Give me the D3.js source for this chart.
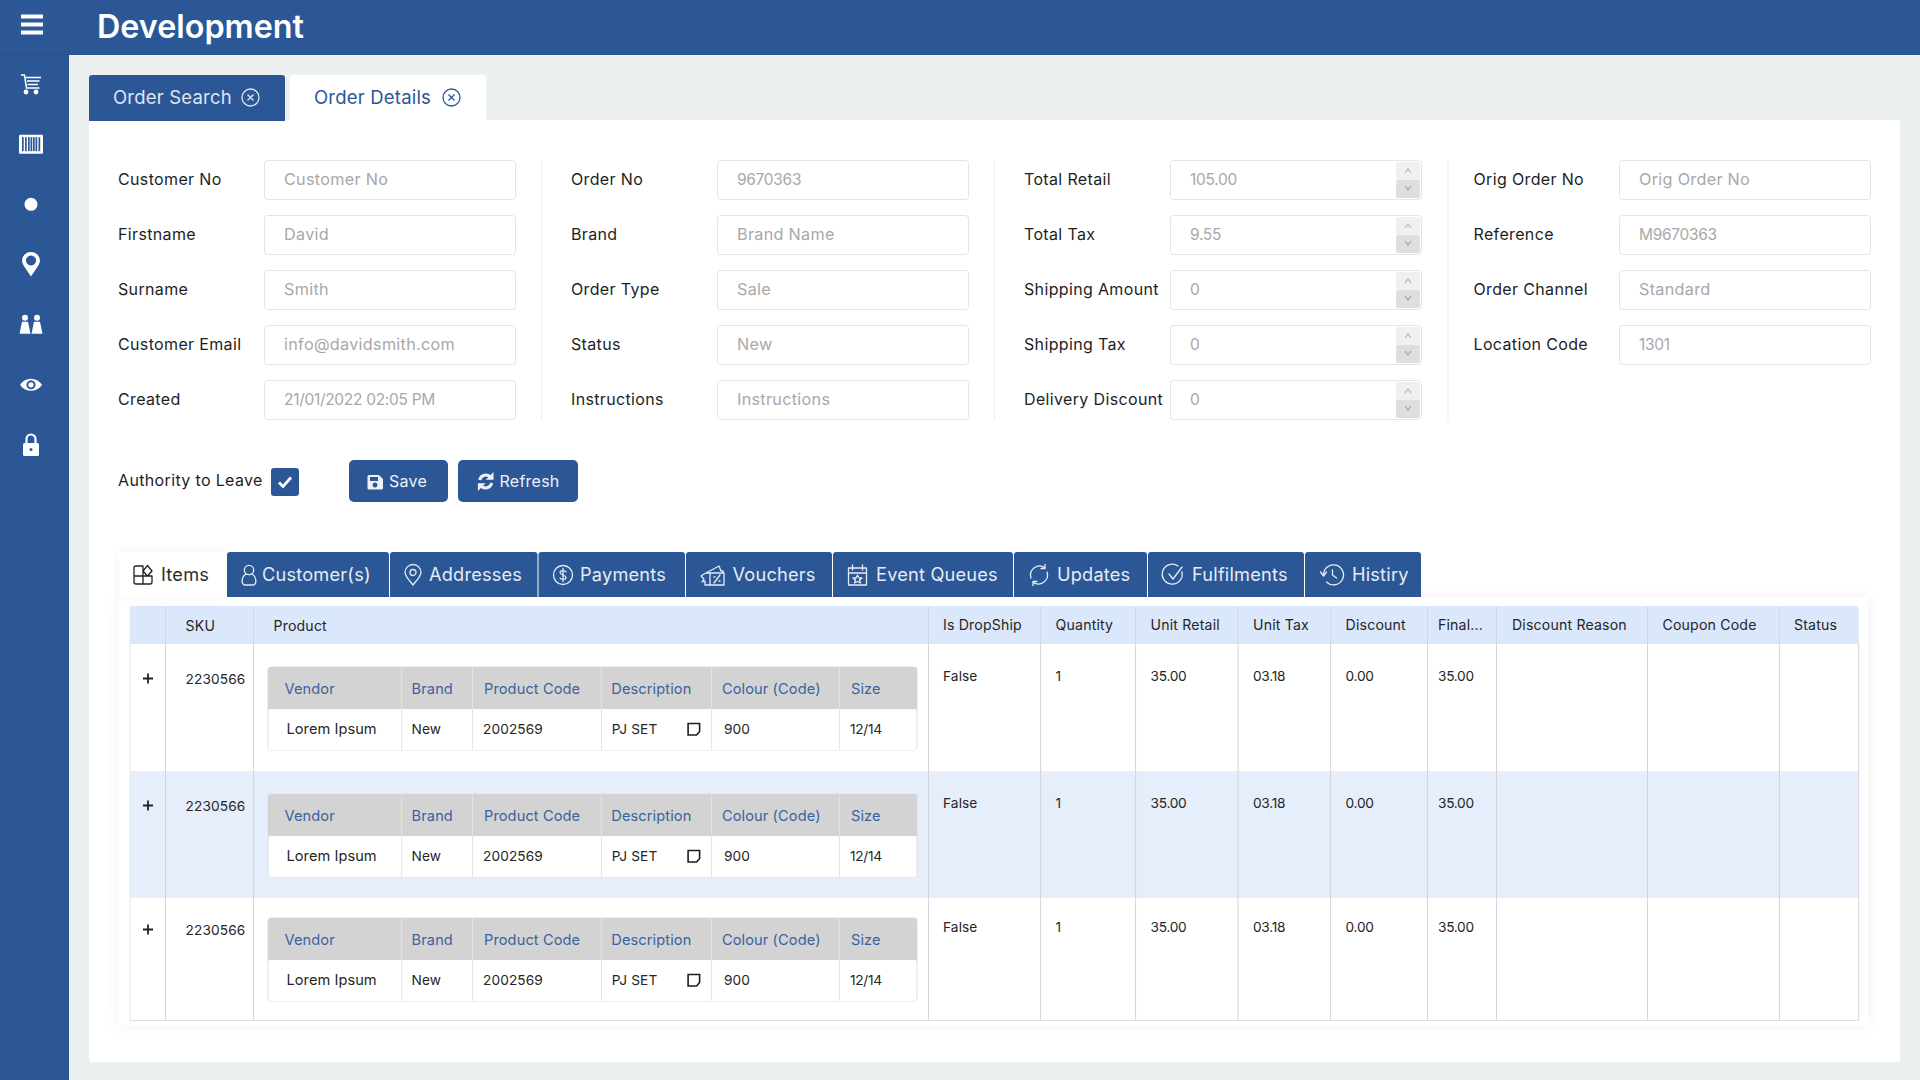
<!DOCTYPE html>
<html><head><meta charset="utf-8">
<script src="https://cdn.jsdelivr.net/npm/d3@7"></script>
<style>
html,body{margin:0;padding:0;background:#ecf0f1;overflow:hidden}
svg{display:block}
text{font-family:Inter,"Noto Sans",sans-serif;white-space:pre}
.lab{font-size:16px;fill:#1e1e1e;letter-spacing:.35px}
.ph{font-size:16.2px;fill:#a8a8a8;letter-spacing:.3px}
.phn{font-size:15.5px;fill:#a8a8a8;letter-spacing:-.3px}
.tab{font-size:18.5px;letter-spacing:.2px}
.itab{font-size:18.2px;letter-spacing:.2px}
.btn{font-size:16px;fill:#eef2f8;letter-spacing:.25px}
.th{font-size:14.1px;fill:#262626;letter-spacing:.18px}
.td{font-size:13.7px;fill:#262626;letter-spacing:.1px}
.tdn{font-size:13.7px;fill:#262626;letter-spacing:-.3px}
.sv{font-size:14.6px;fill:#262626;letter-spacing:.05px}
.sh{font-size:14.6px;fill:#3a62a0;letter-spacing:.1px}
</style></head><body>
<svg id="c" width="1920" height="1080" viewBox="0 0 1920 1080"></svg>
<script>
// ---------- data ----------
const title = "Development";
const pageTabs = ["Order Search", "Order Details"];
const formLabels1 = ["Customer No", "Firstname", "Surname", "Customer Email", "Created"];
const formValues1 = ["Customer No", "David", "Smith", "info@davidsmith.com", "21/01/2022 02:05 PM"];
const formLabels2 = ["Order No", "Brand", "Order Type", "Status", "Instructions"];
const formValues2 = ["9670363", "Brand Name", "Sale", "New", "Instructions"];
const formLabels3 = ["Total Retail", "Total Tax", "Shipping Amount", "Shipping Tax", "Delivery Discount"];
const formValues3 = ["105.00", "9.55", "0", "0", "0"];
const formLabels4 = ["Orig Order No", "Reference", "Order Channel", "Location Code"];
const formValues4 = ["Orig Order No", "M9670363", "Standard", "1301"];
const authorityLabel = "Authority to Leave";
const itemTabs = ["Items", "Customer(s)", "Addresses", "Payments", "Vouchers", "Event Queues", "Updates", "Fulfilments", "Histiry"];
const tableColumns = ["", "SKU", "Product", "Is DropShip", "Quantity", "Unit Retail", "Unit Tax", "Discount", "Final...", "Discount Reason", "Coupon Code", "Status"];
const rowSku = ["2230566", "2230566", "2230566"];
const rowDropShip = ["False", "False", "False"];
const rowQuantity = ["1", "1", "1"];
const rowUnitRetail = ["35.00", "35.00", "35.00"];
const rowUnitTax = ["03.18", "03.18", "03.18"];
const rowDiscount = ["0.00", "0.00", "0.00"];
const rowFinal = ["35.00", "35.00", "35.00"];
const subColumns = ["Vendor", "Brand", "Product Code", "Description", "Colour (Code)", "Size"];
const subValues = ["Lorem Ipsum", "New", "2002569", "PJ SET", "900", "12/14"];
const navIcons = ["cart", "barcode", "dot", "pin", "people", "eye", "lock"];

// ---------- layout & scales ----------
const BLUE = "#2b5797", BORDER = "#e2e4e6";
const svg = d3.select("#c");
const txt = (g, x, y, s, cls, fill) => {
  const n = g.append("text").attr("x", x).attr("y", y).attr("class", cls).text(s);
  if (fill) n.attr("fill", fill).style("fill", fill);
  return n;
};
const rect = (g, x, y, w, h, fill, rx) => g.append("rect").attr("x", x).attr("y", y).attr("width", w).attr("height", h).attr("fill", fill).attr("rx", rx || 0);

const navY = d3.scalePoint().domain(navIcons).range([84, 445]);
const formRows = d3.scaleLinear().domain([0, 4]).range([160, 380]);
const columnEdges = d3.scaleOrdinal().domain(tableColumns.concat("end")).range([130, 165.5, 253.6, 928.5, 1040.6, 1135.6, 1238, 1330.6, 1427.5, 1496.5, 1647.5, 1779.4, 1858.7]);
const columnText = d3.scaleOrdinal().domain(tableColumns).range([148, 185.6, 273.5, 943, 1055.6, 1150.6, 1253, 1345.6, 1438, 1512, 1662.5, 1794]);
const rowBand = d3.scaleLinear().domain([0, 1, 2, 3]).range([644, 771, 895, 1021]);
const subEdges = d3.scaleOrdinal().domain(subColumns.concat("end")).range([268, 401.7, 472.5, 601.4, 711.6, 839.4, 917]);
const subHeadText = d3.scaleOrdinal().domain(subColumns).range([284.5, 411.6, 484, 611.3, 722, 851]);
const subValText = d3.scaleOrdinal().domain(subColumns).range([286.5, 411.6, 483, 611.8, 724, 850]);
const tabEdges = d3.scaleOrdinal().domain(itemTabs).range([[119, 227], [227, 389], [390, 537.5], [538.5, 685], [686, 832], [833, 1013], [1014, 1147], [1148, 1304], [1305, 1421]]);
const tabText = d3.scaleOrdinal().domain(itemTabs).range([161, 262, 429, 580, 732.5, 876, 1057, 1192, 1352]);
const tabIcon = d3.scaleOrdinal().domain(itemTabs).range([143, 249, 413, 563, 713, 857.5, 1039, 1173, 1332.5]);

// ---------- chrome ----------
rect(svg, 0, 0, 1920, 55, BLUE);
rect(svg, 0, 0, 69, 1080, BLUE);
rect(svg, 0, 54.5, 69, 1, "#285290");
rect(svg, 68, 0, 1, 55, "#285290");
txt(svg, 97, 38, title, "", "#fff").style("font-size", "32.3px").style("font-weight", 600);

// hamburger
[14.5, 22.5, 30.5].forEach(y => rect(svg, 21, y, 22, 4, "#fff"));

// nav icons
const nav = svg.append("g");
const navDraw = {
  cart(g) { g.append("path").attr("d", "M-10-9h3.500l2 13h13M-5-6.500H10M-4-3H8.500M-3.500 .5H7").attr("fill", "none").attr("stroke", "#fff").attr("stroke-width", 1.6);
            g.selectAll("c").data([-5, 5]).join("circle").attr("cx", d => d).attr("cy", 8).attr("r", 2.4).attr("fill", "#fff"); },
  barcode(g) { rect(g, -12, -9.5, 24, 19, "#fff", 1); [-9, -6, -3, -.500, 2, 4.500, 7.500].forEach(x => rect(g, x, -7, 1.7, 14, BLUE)); },
  dot(g) { g.append("circle").attr("r", 6.5).attr("fill", "#fff"); },
  pin(g) { g.append("path").attr("fill-rule", "evenodd").attr("fill", "#fff").attr("d", "M0 12C-5 4-9 0-9-4a9 8.5 0 0 1 18 0C9 0 5 4 0 12ZM0-9a5 5 0 1 0 .01 0Z"); },
  people(g) { g.selectAll("c").data([-6, 6]).join("circle").attr("cx", d => d).attr("cy", -7).attr("r", 3).attr("fill", "#fff");
              g.selectAll("p").data([-6, 6]).join("path").attr("fill", "#fff").attr("d", d => `M${d - 5.500} 9L${d - 3} -3H${d + 3}L${d + 5.500} 9Z`); },
  eye(g) { g.append("path").attr("fill", "#fff").attr("fill-rule", "evenodd").attr("d", "M-11 0C-6-8 6-8 11 0C6 8-6 8-11 0ZM0-4.5a4.5 4.5 0 1 0 .01 0Z"); g.append("circle").attr("r", 2.6).attr("fill", "#fff"); },
  lock(g) { rect(g, -8, -2, 16, 13, "#fff", 1.5); g.append("path").attr("d", "M-4.5-2V-6a4.5 4.5 0 0 1 9 0V-2").attr("fill", "none").attr("stroke", "#fff").attr("stroke-width", 2.2); g.append("circle").attr("cy", 4.5).attr("r", 1.5).attr("fill", BLUE); }
};
navIcons.forEach(n => { const g = nav.append("g").attr("transform", `translate(31,${navY(n)})`); navDraw[n](g); });

// ---------- page tabs ----------
const xIcon = (g, cx, cy, col) => {
  g.append("circle").attr("cx", cx).attr("cy", cy).attr("r", 8.5).attr("fill", "none").attr("stroke", col).attr("stroke-width", 1.3);
  g.append("path").attr("d", `M${cx - 3} ${cy - 3}l6 6M${cx + 3} ${cy - 3}l-6 6`).attr("stroke", col).attr("stroke-width", 1.3);
};
const topTab = (x, w, fill) => svg.append("path").attr("fill", fill).attr("d", `M${x} 121V78q0-3 3-3H${x + w - 3}q3 0 3 3V121Z`);
rect(svg, 89, 120, 1811, 942, "#fff", 3);
topTab(89, 196, BLUE); topTab(290, 196, "#fff");
txt(svg, 113, 104, pageTabs[0], "tab", "#dfe6f1");
xIcon(svg, 250.5, 97.5, "#dfe6f1");
txt(svg, 314, 104, pageTabs[1], "tab", BLUE);
xIcon(svg, 451.5, 97.5, BLUE);

// ---------- form ----------
const numeric = s => /^[M\d]?[\d\/.: ]+(PM)?$/.test(s);
const formColumn = (labels, values, labelX, inputX, inputW, spin) => {
  const g = svg.append("g");
  labels.forEach((l, i) => {
    const y = formRows(i);
    txt(g, labelX, y + 24.8, l, "lab");
    g.append("rect").attr("x", inputX + .5).attr("y", y + .5).attr("width", inputW).attr("height", 39).attr("rx", 3).attr("fill", "#fff").attr("stroke", BORDER);
    txt(g, inputX + 20, y + 24.8, values[i], numeric(values[i]) ? "phn" : "ph");
    if (spin) {
      rect(g, inputX + inputW - 25, y + 2, 24, 18, "#f0f0f0", 2);
      rect(g, inputX + inputW - 25, y + 20, 24, 18, "#dedede", 2);
      g.append("path").attr("d", `M${inputX + inputW - 16} ${y + 13}l3-4 3 4`).attr("fill", "none").attr("stroke", "#b5b5b5").attr("stroke-width", 1.2);
      g.append("path").attr("d", `M${inputX + inputW - 16} ${y + 26}l3 4 3-4`).attr("fill", "none").attr("stroke", "#a5a5a5").attr("stroke-width", 1.2);
    }
  });
};
formColumn(formLabels1, formValues1, 118, 264, 251, false);
formColumn(formLabels2, formValues2, 571, 717, 251, false);
formColumn(formLabels3, formValues3, 1024, 1170, 251, true);
formColumn(formLabels4, formValues4, 1473.5, 1619, 251, false);
[541, 994, 1447.5].forEach(x => rect(svg, x, 160, 1, 260, "#eceeef"));

// authority row
txt(svg, 118, 486, authorityLabel, "lab");
rect(svg, 271, 468, 28, 28, BLUE, 3);
svg.append("path").attr("d", "M279 482.500l4 4 8-9").attr("fill", "none").attr("stroke", "#fff").attr("stroke-width", 2.8);
rect(svg, 349, 460, 99, 42, BLUE, 5);
rect(svg, 458, 460, 120, 42, BLUE, 5);
svg.append("path").attr("fill", "#eef2f8").attr("fill-rule", "evenodd").attr("d", "M369 475h10l4 4v9a1.5 1.5 0 0 1-1.5 1.5H369a1.5 1.5 0 0 1-1.5-1.5v-11.5a1.5 1.5 0 0 1 1.5-1.5ZM370 477v4h8v-4ZM375 482.500a2.5 2.5 0 1 0 .01 0Z");
txt(svg, 389, 487, "Save", "btn");
const rf = svg.append("g").attr("transform", "translate(485.7,481.5)").attr("fill", "none").attr("stroke", "#eef2f8").attr("stroke-width", 3);
rf.append("path").attr("d", "M-6-1.500a6.200 6.200 0 0 1 11-2.500M6 1.500a6.200 6.200 0 0 1-11 2.500");
rf.append("path").attr("d", "M7-7.500v5H2ZM-7 7.500v-5H-2Z").attr("stroke-width", 1.6).attr("fill", "#eef2f8");
txt(svg, 499.5, 487, "Refresh", "btn");

// ---------- card + item tabs ----------
svg.append("rect").attr("x", 119).attr("y", 597).attr("width", 1749).attr("height", 428).attr("fill", "#fff").style("filter", "drop-shadow(0 0 7px rgba(0,0,0,.06))");
const itemG = svg.append("g");
const iconDraw = {
  "Items"(g, c) { g.append("path").attr("d", "M-7-9H0V1H-9V-7Q-9-9-7-9ZM-9 1V7Q-9 9-7 9H0V1ZM0 1H9V7Q9 9 7 9H0ZM0-4L4.500-9.500 9-4 4.500 1Z").attr("stroke", c); },
  "Customer(s)"(g, c) { g.append("circle").attr("cy", -5).attr("r", 4.7).attr("stroke", c); g.append("path").attr("d", "M-3-1C-8 2-8 10-4 10H4C8 10 8 2 3-1").attr("stroke", c); },
  "Addresses"(g, c) { g.append("path").attr("d", "M0 10C-4 5-8 1-8-2.5a8 8 0 0 1 16 0C8 1 4 5 0 10Z").attr("stroke", c); g.append("circle").attr("cy", -2.5).attr("r", 3).attr("stroke", c); },
  "Payments"(g, c) { g.append("circle").attr("r", 9.5).attr("stroke", c); g.append("path").attr("d", "M3-3C2-5-3-5-3-2.5S3 0 3 2.5-2 5-3 3M0-6.5V6.5").attr("stroke", c); },
  "Vouchers"(g, c) { g.append("path").attr("d", "M-9-1L-12 1-9 4-11 7-8 6V10H11V-2H-7ZM-7-2L6-9 8-4H10V-2M-3-2V10").attr("stroke", c); g.append("path").attr("d", "M1 8L7 0M1 2H2M6 6H7").attr("stroke", c); },
  "Event Queues"(g, c) { g.append("path").attr("d", "M-9-7H9V10H-9ZM-9-2H9M-5-10V-5M5-10V-5M0 0L1.5 3H4.5L2 5 3 8 0 6.5-3 8-2 5-4.500 3H-1.500Z").attr("stroke", c); },
  "Updates"(g, c) { g.append("path").attr("d", "M-8 3A9 9 0 0 1 6-7M8-3A9 9 0 0 1-6 7M6-10.500V-6.500H2M-6 10.500V6.500H-2").attr("stroke", c); },
  "Fulfilments"(g, c) { g.append("path").attr("d", "M9-3A10 10 0 1 1 5-9M-4-1L0 4 9-8").attr("stroke", c); },
  "Histiry"(g, c) { g.append("path").attr("d", "M-9 0A10 10 0 1 1-6 7M-12-3L-9 1-6-3M0-5V0L4 3").attr("stroke", c); }
};
itemTabs.forEach((t, i) => {
  const [a, b] = tabEdges(t);
  const active = i === 0;
  const col = active ? "#222" : "#e6ebf3";
  itemG.append("path").attr("fill", active ? "#fff" : BLUE)
    .style("filter", active ? "drop-shadow(0 -1px 5px rgba(0,0,0,.05))" : null)
    .attr("d", `M${a} 597V555q0-3 3-3H${b - 3}q3 0 3 3V597Z`);
  txt(itemG, tabText(t), 581, t, "itab", active ? "#2d2d2d" : "#e6ebf3");
  const ic = itemG.append("g").attr("transform", `translate(${tabIcon(t)},575)`).attr("fill", "none").attr("stroke-width", 1.3).attr("stroke-linecap", "round").attr("stroke-linejoin", "round");
  iconDraw[t](ic, col);
});

// ---------- table ----------
const tb = svg.append("g");
const left = columnEdges(""), right = columnEdges("end");
tb.append("path").attr("fill", "#dbe7fa").attr("d", `M${left} 644V609q0-3 3-3H${right - 3}q3 0 3 3V644Z`);
rect(tb, left, rowBand(1), right - left, 127, "#e5eefa");
tableColumns.forEach((c, i) => {
  if (c) txt(tb, columnText(c), i < 3 ? 631 : 630, c, "th");
});
tableColumns.slice(1).concat("end").forEach(c => rect(tb, columnEdges(c) - .5, 644, 1, rowBand(3) - 644, "#d2d5d9"));
tableColumns.slice(1).forEach(c => rect(tb, columnEdges(c) - .5, 606, 1, 38, "#cfd8e6"));
rect(tb, left - .5, 606, 1, rowBand(3) - 606, "#e6e8ea");
rect(tb, left, rowBand(3) - 1, right - left, 1, "#dcdfe2");

rowSku.forEach((sku, r) => {
  const top = rowBand(r), g = tb.append("g");
  const cx = columnText("");
  g.append("path").attr("d", `M${cx - 5} ${top + 34.500}h10M${cx} ${top + 29.500}v10`).attr("stroke", "#222").attr("stroke-width", 1.8);
  txt(g, columnText("SKU"), top + 39.500, sku, "td");
  const cols = [["Is DropShip", rowDropShip, "td"], ["Quantity", rowQuantity, "tdn"], ["Unit Retail", rowUnitRetail, "tdn"], ["Unit Tax", rowUnitTax, "tdn"], ["Discount", rowDiscount, "tdn"], ["Final...", rowFinal, "tdn"]];
  cols.forEach(([k, arr, cl]) => txt(g, columnText(k), top + 36.5, arr[r], cl));

  // nested product table
  const sx0 = subEdges(subColumns[0]), sx1 = subEdges("end"), sy = top + 23;
  rect(g, sx0 - .5, sy - .5, sx1 - sx0 + 1, 84, "#dfe1e3", 4);
  rect(g, sx0 + .5, sy + 42, sx1 - sx0 - 1, 41, "#fff", 3);
  g.append("path").attr("fill", "#d3d3d3").attr("d", `M${sx0} ${sy + 42}V${sy + 3}q0-3 3-3H${sx1 - 3}q3 0 3 3V${sy + 42}Z`);
  subColumns.forEach((c, i) => {
    if (i) rect(g, subEdges(c) - .5, sy, 1, 83, "#e3e4e5");
    txt(g, subHeadText(c), sy + 27, c, "sh");
    txt(g, subValText(c), sy + 66.5, subValues[i], i === 0 ? "sv" : (i === 5 ? "tdn" : "td"));
  });
  const ix = subEdges("Colour (Code)") - 23.5, iy = sy + 56.5;
  g.append("path").attr("d", `M${ix} ${iy}H${ix + 11.5}V${iy + 8}L${ix + 8.500} ${iy + 11.500}H${ix}Z`).attr("fill", "none").attr("stroke", "#1e1e1e").attr("stroke-width", 1.6);
});
</script></body></html>
